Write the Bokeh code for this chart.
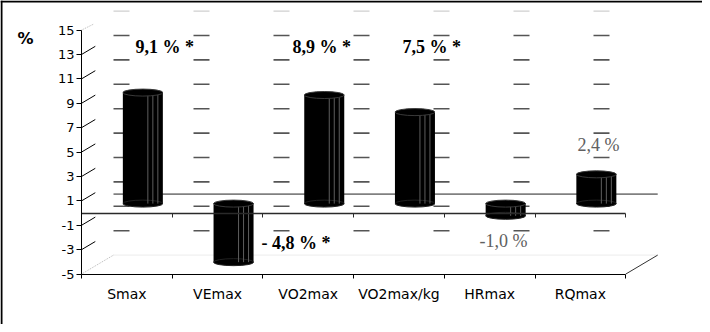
from bokeh.plotting import figure
from bokeh.models import LinearAxis, FixedTicker, Range1d, Span
from bokeh.embed import file_html
from bokeh.resources import INLINE
from bokeh.core.properties import value

# ---------------- data ----------------
categories = ["Smax", "VEmax", "VO2max", "VO2max/kg", "HRmax", "RQmax"]
changes = [9.1, -4.8, 8.9, 7.5, -1.0, 2.4]
change_labels = ["9,1 % *", "- 4,8 % *", "8,9 % *", "7,5 % *", "-1,0 %", "2,4 %"]
significant = [True, True, True, True, False, False]
y_ticks = [-5, -3, -1, 1, 3, 5, 7, 9, 11, 13, 15]
y_tick_labels = ["-5", "-3", "-1", "1", "3", "5", "7", "9", "11", "13", "15"]
wall_grid = [-3, -1, 1, 3, 5, 7, 9, 11, 13]

# ---------------- layout (page pixels) ----------------
W, H = 702, 324
PAGE = 8
X0, XS = 89.0, 90.7      # page x of first category boundary, px per category
Y0, YS = 220.6, 12.2     # page y of value 0 (front plane), px per unit


def dx(px):
    return (px - X0) / XS


def dy(py):
    return (Y0 - py) / YS


DEPTH_X = 32 / XS
DEPTH_Y = 19 / YS
SIDE_X = 13.8 / XS
SIDE_Y = 8.2 / YS
BAR_W = 40 / XS
N = len(categories)

label_x_px = [143, 269, 300, 410, 487, 585]
label_y_px = [54, 250, 54, 54, 248, 152]

p = figure(width=W, height=H,
           x_range=Range1d((PAGE - X0) / XS, (PAGE + W - X0) / XS),
           y_range=Range1d((Y0 - (PAGE + H)) / YS, (Y0 - PAGE) / YS),
           x_axis_type=None, y_axis_type=None,
           toolbar_location=None, output_backend="svg", min_border=0)
p.outline_line_color = None
p.background_fill_color = "white"
p.border_fill_color = "white"

# outer border (top and left visible)
p.add_layout(Span(location=p.x_range.start + 1 / XS, dimension="height",
                  line_color="black", line_width=2))
p.add_layout(Span(location=p.y_range.end - 1 / YS, dimension="width",
                  line_color="black", line_width=2))

# ---------------- walls / floor ----------------
bx0, bx1 = DEPTH_X, N + DEPTH_X
# floor back edge
p.segment(x0=[bx0], y0=[-5 + DEPTH_Y], x1=[bx1], y1=[-5 + DEPTH_Y],
          line_color="#ececec", line_width=1)
# floor side edges
p.segment(x0=[0], y0=[-5], x1=[DEPTH_X], y1=[-5 + DEPTH_Y],
          line_color="#b8b8b8", line_width=1, line_dash="1 1")
p.segment(x0=[N], y0=[-5], x1=[N + DEPTH_X], y1=[-5 + DEPTH_Y],
          line_color="#333333", line_width=1)
# back wall grid lines (dashed)
p.segment(x0=[bx0] * len(wall_grid), y0=[v + DEPTH_Y for v in wall_grid],
          x1=[bx1] * len(wall_grid), y1=[v + DEPTH_Y for v in wall_grid],
          line_color="#555555", line_width=1.6, line_dash="16 64")
p.segment(x0=[bx0], y0=[15 + DEPTH_Y], x1=[bx1], y1=[15 + DEPTH_Y],
          line_color="#d0d0d0", line_width=1.4, line_dash="16 64")
# side wall grid stubs
p.segment(x0=[0] * len(wall_grid), y0=wall_grid,
          x1=[SIDE_X] * len(wall_grid), y1=[v + SIDE_Y for v in wall_grid],
          line_color="black", line_width=1)
p.segment(x0=[0], y0=[15], x1=[SIDE_X * 0.9], y1=[15 + SIDE_Y * 0.75],
          line_color="#b8b8b8", line_width=1, line_dash="1 1")
# back zero line
p.segment(x0=[bx0], y0=[DEPTH_Y], x1=[bx1], y1=[DEPTH_Y],
          line_color="#808080", line_width=1.6)

# ---------------- cylinders ----------------
base = DEPTH_Y / 2
cx = [i + 0.5 + DEPTH_X / 2 for i in range(N)]
lo = [min(0, v) + base for v in changes]
hi = [max(0, v) + base for v in changes]
p.vbar(x=cx, width=BAR_W, bottom=lo, top=hi, fill_color="black", line_color=None)
p.ellipse(x=cx, y=lo, width=BAR_W, height=7, height_units="screen",
          fill_color="black", line_color="#222222")
for off in (5, 10, 15):
    p.segment(x0=[c + off / XS for c in cx], y0=lo, x1=[c + off / XS for c in cx], y1=hi,
              line_color="#5e5e5e", line_width=1)
p.ellipse(x=cx, y=hi, width=BAR_W, height=7, height_units="screen",
          fill_color="black", line_color="#3a3a3a")

# ---------------- axes ----------------
yax = LinearAxis(fixed_location=0, bounds=(-5, 15), ticker=FixedTicker(ticks=y_ticks))
yax.major_label_overrides = dict(zip(y_ticks, y_tick_labels))
yax.major_tick_out = 5
yax.major_tick_in = 0
yax.minor_tick_out = 0
yax.minor_tick_in = 0
yax.axis_line_color = "black"
yax.major_tick_line_color = "black"
yax.major_label_text_font = "DejaVu Sans"
yax.major_label_text_font_size = "13px"
yax.major_label_text_color = "black"
yax.major_label_standoff = 2
p.add_layout(yax, "left")

xax = LinearAxis(fixed_location=-5, bounds=(0, N),
                 ticker=FixedTicker(ticks=[i + 0.5 for i in range(N)],
                                    minor_ticks=list(range(N + 1))))
xax.major_label_overrides = {i + 0.5: c for i, c in enumerate(categories)}
xax.major_tick_out = 0
xax.major_tick_in = 0
xax.minor_tick_out = 4
xax.minor_tick_in = 0
xax.axis_line_color = "black"
xax.minor_tick_line_color = "black"
xax.major_label_text_font = "DejaVu Sans"
xax.major_label_text_font_size = "14px"
xax.major_label_text_color = "black"
xax.major_label_standoff = 8
p.add_layout(xax, "below")

zax = LinearAxis(fixed_location=0, bounds=(0, N),
                 ticker=FixedTicker(ticks=[], minor_ticks=list(range(1, N + 1))))
zax.minor_tick_out = 4
zax.minor_tick_in = 0
zax.major_tick_out = 0
zax.major_tick_in = 0
zax.axis_line_color = "#2a2a2a"
zax.axis_line_width = 1.6
zax.minor_tick_line_color = "#2a2a2a"
p.add_layout(zax, "below")

# ---------------- texts ----------------
sig_x = [dx(x) for x, s in zip(label_x_px, significant) if s]
sig_y = [dy(y) for y, s in zip(label_y_px, significant) if s]
sig_t = [t for t, s in zip(change_labels, significant) if s]
ns_x = [dx(x) for x, s in zip(label_x_px, significant) if not s]
ns_y = [dy(y) for y, s in zip(label_y_px, significant) if not s]
ns_t = [t for t, s in zip(change_labels, significant) if not s]

p.text(x=sig_x, y=sig_y, text=sig_t, text_font=value("Liberation Serif"),
       text_font_style="bold", text_font_size="18px", text_color="black",
       text_align="left", text_baseline="middle")
p.text(x=ns_x, y=ns_y, text=ns_t, text_font=value("Liberation Serif"),
       text_font_size="18px", text_color="#606060",
       text_align="left", text_baseline="middle")
p.text(x=[dx(25)], y=[dy(46)], text=["%"], text_font=value("DejaVu Sans"),
       text_font_style="bold", text_font_size="16px", text_color="black",
       text_align="left", text_baseline="middle")

open("out.html", "w").write(file_html(p, INLINE))
